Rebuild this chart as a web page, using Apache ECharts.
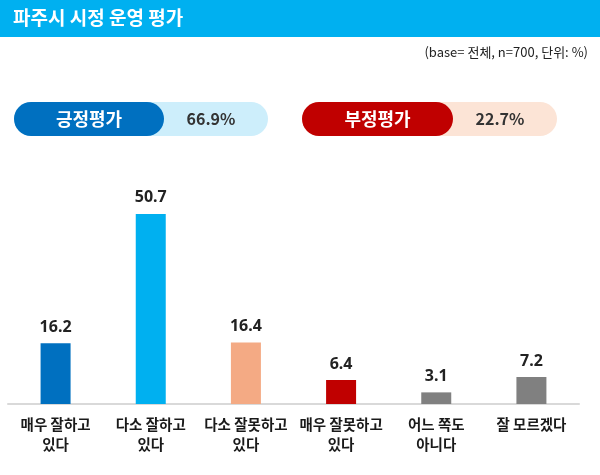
<!DOCTYPE html>
<html>
<head>
<meta charset="utf-8">
<script src="https://cdn.jsdelivr.net/npm/echarts@6/dist/echarts.min.js"></script>
<style>
  html, body { margin: 0; padding: 0; background: #fff; }
  #chart { width: 600px; height: 475px; }
</style>
</head>
<body>
<div id="chart"></div>
<script>
// 차트 데이터
const categories = ['매우 잘하고\n있다', '다소 잘하고\n있다', '다소 잘못하고\n있다', '매우 잘못하고\n있다', '어느 쪽도\n아니다', '잘 모르겠다'];
const values = [16.2, 50.7, 16.4, 6.4, 3.1, 7.2];
const barColors = ['#0070C0', '#00B0F0', '#F4AA84', '#C00000', '#808080', '#808080'];

const summaryNames = ['긍정평가', '부정평가'];
const summaryValues = [66.9, 22.7];

const titleText = '파주시 시정 운영 평가';
const noteText = '(base= 전체, n=700, 단위: %)';

const KR = '"Noto Sans CJK KR", "Noto Sans", sans-serif';

// 요약 알약 모양 (긍정/부정)
function pill(x, darkW, totalW, darkColor, lightColor, name, value) {
  return [
    {
      type: 'rect',
      shape: { x: x, y: 102, width: totalW, height: 34, r: 17 },
      style: { fill: lightColor }
    },
    {
      type: 'rect',
      shape: { x: x, y: 102, width: darkW, height: 34, r: 17 },
      style: { fill: darkColor }
    },
    {
      type: 'text',
      x: x + darkW / 2,
      y: 119,
      style: {
        text: name,
        fill: '#fff',
        font: 'bold 18px ' + KR,
        align: 'center',
        verticalAlign: 'middle'
      }
    },
    {
      type: 'text',
      x: x + darkW + (totalW - darkW) / 2 - 5,
      y: 119,
      style: {
        text: value.toFixed(1) + '%',
        fill: '#333',
        font: 'bold 16px ' + KR,
        align: 'center',
        verticalAlign: 'middle'
      }
    }
  ];
}

const chart = echarts.init(document.getElementById('chart'));

const option = {
  animation: false,
  backgroundColor: '#fff',
  graphic: [
    {
      type: 'rect',
      shape: { x: 0, y: 0, width: 600, height: 37 },
      style: { fill: '#00B0F0' }
    },
    {
      type: 'text',
      x: 13,
      y: 18,
      style: {
        text: titleText,
        fill: '#fff',
        font: 'bold 19px ' + KR,
        verticalAlign: 'middle'
      }
    },
    {
      type: 'text',
      x: 588,
      y: 52,
      style: {
        text: noteText,
        fill: '#222',
        font: '13px ' + KR,
        align: 'right',
        verticalAlign: 'middle'
      }
    }
  ]
    .concat(pill(14, 150, 254, '#0070C0', '#CDEEFB', summaryNames[0], summaryValues[0]))
    .concat(pill(302, 151, 255, '#C00000', '#FCE4D6', summaryNames[1], summaryValues[1])),
  grid: {
    left: 8,
    right: 21,
    top: 179,
    bottom: 71,
    containLabel: false
  },
  xAxis: {
    type: 'category',
    data: categories,
    axisLine: { lineStyle: { color: '#D9D9D9', width: 2 } },
    axisTick: { show: false },
    axisLabel: {
      interval: 0,
      margin: 10,
      color: '#1a1a1a',
      fontFamily: KR,
      fontSize: 14.5,
      fontWeight: 'bold',
      lineHeight: 20
    }
  },
  yAxis: {
    type: 'value',
    min: 0,
    max: 60,
    show: false,
    splitLine: { show: false }
  },
  series: [
    {
      type: 'bar',
      barWidth: 30,
      data: values.map((v, i) => ({ value: v, itemStyle: { color: barColors[i] } })),
      label: {
        show: true,
        position: 'top',
        distance: 8,
        color: '#222',
        fontFamily: '"Noto Sans", sans-serif',
        fontWeight: 'bold',
        fontSize: 16,
        formatter: p => p.value.toFixed(1)
      }
    }
  ]
};

chart.setOption(option);
</script>
</body>
</html>
